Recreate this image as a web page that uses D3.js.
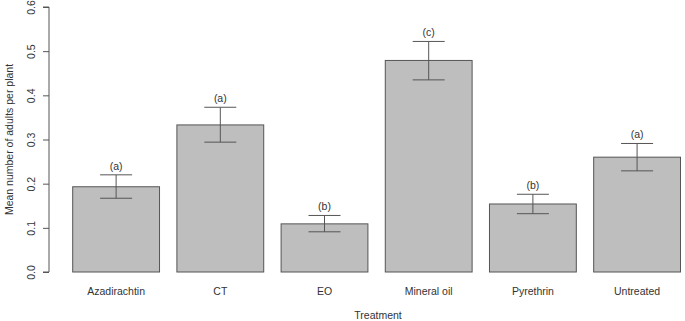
<!DOCTYPE html>
<html><head><meta charset="utf-8">
<script src="https://cdn.jsdelivr.net/npm/d3@7"></script>
<style>body{margin:0;background:#fff}svg{display:block}text{font-family:"Liberation Sans",Arial,sans-serif}</style>
</head><body>
<script>
const categories = ["Azadirachtin","CT","EO","Mineral oil","Pyrethrin","Untreated"];
const means = [0.193,0.333,0.109,0.479,0.154,0.260];
const upper = [0.220,0.373,0.128,0.522,0.176,0.291];
const lower = [0.167,0.294,0.091,0.435,0.132,0.229];
const letters = ["(a)","(a)","(b)","(c)","(b)","(a)"];
const yTicks = [0,0.1,0.2,0.3,0.4,0.5,0.6];

const W=685,H=321;
const svg=d3.select("body").append("svg").attr("width",W).attr("height",H);
const y=d3.scaleLinear().domain([0,0.6]).range([272,7]);
const x=d3.scaleBand().domain(categories).range([64,689.2]).paddingInner(0.1667).paddingOuter(0.0835);
const ink="#333", line="#555", fs=10.5;

// y axis
const ya=svg.append("g").attr("transform","translate(49,0)")
  .call(d3.axisLeft(y).tickValues(yTicks).tickFormat(d3.format(".1f")).tickSize(6).tickPadding(0));
ya.select(".domain").attr("stroke",line).attr("d",`M-6,${y(0)}H0V${y(0.6)}H-6`);
ya.selectAll(".tick line").attr("stroke",line);
ya.selectAll(".tick text").remove();
ya.selectAll(".tick").append("text").attr("transform","translate(-18,0) rotate(-90)")
  .attr("text-anchor","middle").attr("dy","0.35em").attr("fill",ink).attr("font-size",fs)
  .text(d=>d3.format(".1f")(d));

svg.append("text").attr("transform",`translate(9,${(y(0)+y(0.6))/2}) rotate(-90)`)
  .attr("text-anchor","middle").attr("dy","0.35em").attr("font-size",fs).attr("fill",ink)
  .text("Mean number of adults per plant");

// bars
svg.selectAll("rect.bar").data(categories).enter().append("rect")
  .attr("x",d=>x(d)).attr("width",x.bandwidth())
  .attr("y",(d,i)=>y(means[i])).attr("height",(d,i)=>y(0)-y(means[i]))
  .attr("fill","#bebebe").attr("stroke",line).attr("stroke-width",1);

// error bars
const cx=d=>x(d)+x.bandwidth()/2;
const eb=svg.append("g").attr("stroke",line).attr("stroke-width",1);
categories.forEach((d,i)=>{
  eb.append("line").attr("x1",cx(d)).attr("x2",cx(d)).attr("y1",y(lower[i])).attr("y2",y(upper[i]));
  eb.append("line").attr("x1",cx(d)-16).attr("x2",cx(d)+16).attr("y1",y(lower[i])).attr("y2",y(lower[i]));
  eb.append("line").attr("x1",cx(d)-16).attr("x2",cx(d)+16).attr("y1",y(upper[i])).attr("y2",y(upper[i]));
});
svg.selectAll("text.let").data(categories).enter().append("text")
  .attr("x",cx).attr("y",(d,i)=>y(upper[i])-5).attr("text-anchor","middle")
  .attr("font-size",fs).attr("fill",ink).text((d,i)=>letters[i]);

// x labels
svg.selectAll("text.xl").data(categories).enter().append("text")
  .attr("x",cx).attr("y",291).attr("dy","0.35em").attr("text-anchor","middle")
  .attr("font-size",fs).attr("fill",ink).text(d=>d);
svg.append("text").attr("x",378).attr("y",315).attr("dy","0.35em").attr("text-anchor","middle")
  .attr("font-size",fs).attr("fill",ink).text("Treatment");
</script>
</body></html>
